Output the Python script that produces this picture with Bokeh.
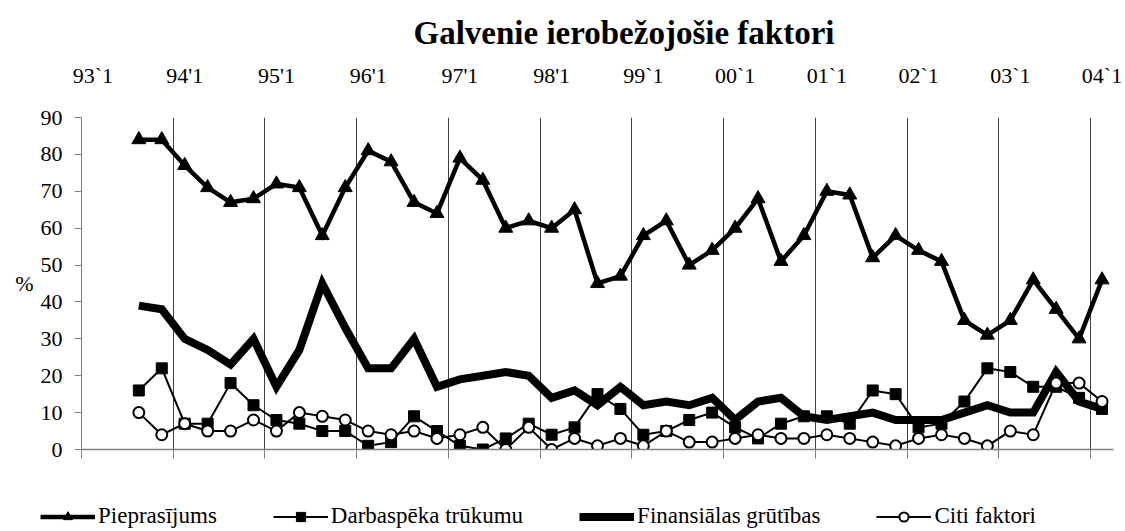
from bokeh.plotting import figure
from bokeh.models import FixedTicker, LinearAxis, Range1d, Legend, LegendItem
from bokeh.layouts import column
from bokeh.embed import file_html
from bokeh.resources import INLINE

TITLE = "Galvenie ierobežojošie faktori"
tick_labels = ["93`1", "94'1", "95'1", "96'1", "97'1", "98'1",
               "99`1", "00`1", "01`1", "02`1", "03`1", "04`1"]
n_quarters = 45      # 1993 Q1 ... 2004 Q1
first_quarter = 2    # data start in 1993 Q3

pieprasijums = [84, 84, 77, 71, 67, 68, 72, 71, 58, 71, 81, 78, 67, 64, 79, 73, 60, 62, 60, 65, 45, 47,
                58, 62, 50, 54, 60, 68, 51, 58, 70, 69, 52, 58, 54, 51, 35, 31, 35, 46, 38, 30, 46]
darbaspeka = [16, 22, 7, 7, 18, 12, 8, 7, 5, 5, 1, 2, 9, 5, 1, 0, 3, 7, 4, 6, 15, 11,
              4, 5, 8, 10, 6, 3, 7, 9, 9, 7, 16, 15, 6, 7, 13, 22, 21, 17, 17, 14, 11]
finansialas = [39, 38, 30, 27, 23, 30, 17, 27, 45, 33, 22, 22, 30, 17, 19, 20, 21, 20, 14, 16, 12, 17,
               12, 13, 12, 14, 8, 13, 14, 9, 8, 9, 10, 8, 8, 8, 10, 12, 10, 10, 21, 13, 11]
citi = [10, 4, 7, 5, 5, 8, 5, 10, 9, 8, 5, 4, 5, 3, 4, 6, 0, 6, 0, 3, 1, 3,
        1, 5, 2, 2, 3, 4, 3, 3, 4, 3, 2, 1, 3, 4, 3, 1, 5, 4, 18, 18, 13]
series_names = ["Pieprasījums", "Darbaspēka trūkumu", "Finansiālas grūtības", "Citi faktori"]

FONT = "Liberation Serif"
x = [first_quarter + i + 0.5 for i in range(len(pieprasijums))]

W = 1125
p = figure(width=W, height=490, x_range=Range1d(0, n_quarters), y_range=Range1d(0, 90),
           output_backend="svg", toolbar_location=None,
           min_border_left=81, min_border_right=12, min_border_top=117, min_border_bottom=41)
p.outline_line_color = None
p.background_fill_color = "white"
p.border_fill_color = "white"

# title
p.title.text = TITLE
p.title.align = "left"
p.title.offset = 332
p.title.text_font = FONT
p.title.text_font_size = "33px"
p.title.text_font_style = "bold"
p.title.text_color = "black"
p.title.standoff = 18

year_ticks = list(range(0, n_quarters, 4))
label_ticks = [t + 0.5 for t in year_ticks]

# bottom axis: line at 0 with outward ticks, no labels
xa = p.xaxis[0]
xa.ticker = FixedTicker(ticks=year_ticks)
xa.major_label_text_font_size = "1px"
xa.major_label_text_color = None
xa.major_tick_in = 0
xa.major_tick_out = 9
xa.minor_tick_line_color = None
xa.axis_line_color = "#808080"
xa.major_tick_line_color = "#808080"
xa.axis_line_width = 1.5

# top axis with the year labels
top = LinearAxis(ticker=FixedTicker(ticks=label_ticks),
                 major_label_overrides={t: lab for t, lab in zip(label_ticks, tick_labels)})
top.axis_line_color = None
top.major_tick_line_color = None
top.minor_tick_line_color = None
top.major_tick_out = 0
top.major_tick_in = 0
top.major_label_standoff = 30
top.major_label_text_font = FONT
top.major_label_text_font_size = "22px"
top.major_label_text_color = "black"
p.add_layout(top, "above")

# y axis
ya = p.yaxis[0]
ya.ticker = FixedTicker(ticks=list(range(0, 91, 10)))
ya.major_tick_in = 0
ya.major_tick_out = 7
ya.minor_tick_line_color = None
ya.axis_line_color = "#808080"
ya.major_tick_line_color = "#808080"
ya.major_label_standoff = 12
ya.major_label_text_font = FONT
ya.major_label_text_font_size = "22px"
ya.major_label_text_color = "black"
ya.axis_label = "%"
ya.axis_label_text_font = FONT
ya.axis_label_text_font_size = "22px"
ya.axis_label_text_font_style = "normal"
ya.axis_label_text_color = "black"
ya.axis_label_standoff = 4
if "axis_label_orientation" in ya.properties():
    ya.axis_label_orientation = "horizontal"

# grid
p.xgrid.ticker = FixedTicker(ticks=year_ticks[1:])
p.xgrid.grid_line_color = "#404040"
p.xgrid.grid_line_width = 1
p.ygrid.grid_line_color = None

# series
STY = [
    dict(line_width=4.5, marker="triangle", size=14, fill="black"),
    dict(line_width=2, marker="square", size=11, fill="black"),
    dict(line_width=8, marker=None, size=0, fill=None),
    dict(line_width=2, marker="circle", size=11, fill="white"),
]
values = [pieprasijums, darbaspeka, finansialas, citi]

for vals, st in zip(values, STY):
    p.line(x, vals, line_color="black", line_width=st["line_width"], line_join="miter")
    if st["marker"]:
        p.scatter(x, vals, marker=st["marker"], size=st["size"], fill_color=st["fill"],
                  line_color="black", line_width=2 if st["fill"] == "white" else 1)

# legend strip below the chart (its renderers hold the series, kept out of view)
lg = figure(width=W, height=41, x_range=Range1d(-100, -99), y_range=Range1d(0, 1),
            output_backend="svg", toolbar_location=None,
            x_axis_location=None, y_axis_location=None,
            min_border_left=0, min_border_right=0, min_border_top=0, min_border_bottom=0)
for fig in (p, lg):
    if "frame_align" in fig.properties():
        fig.frame_align = False
lg.outline_line_color = None
lg.xgrid.grid_line_color = None
lg.ygrid.grid_line_color = None
items = []
for name, vals, st in zip(series_names, values, STY):
    rends = [lg.line(x, vals, line_color="black", line_width=st["line_width"])]
    if st["marker"]:
        rends.append(lg.scatter(x, vals, marker=st["marker"], size=st["size"], fill_color=st["fill"],
                                line_color="black", line_width=2 if st["fill"] == "white" else 1))
    items.append(LegendItem(label=name, renderers=rends))
leg = Legend(items=items, location=(40, 2), orientation="horizontal",
             padding=0, margin=0, spacing=56, border_line_color=None, background_fill_alpha=0,
             label_text_font=FONT, label_text_font_size="23px", label_text_color="black",
             glyph_width=55, glyph_height=23, label_height=23, label_standoff=3)
lg.add_layout(leg, "center")

open("out.html", "w").write(file_html(column(p, lg), INLINE))
